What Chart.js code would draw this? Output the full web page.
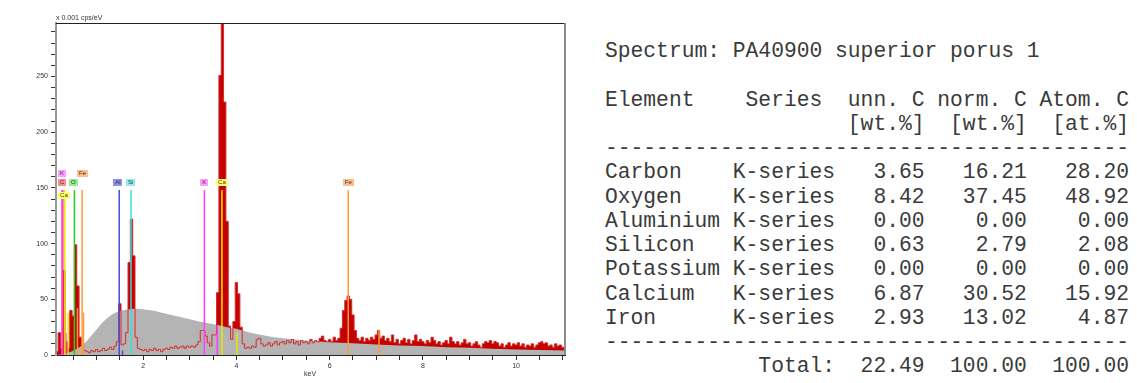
<!DOCTYPE html>
<html>
<head>
<meta charset="utf-8">
<script src="https://cdn.jsdelivr.net/npm/chart.js@4.4.0/dist/chart.umd.min.js"></script>
<style>
  html, body { margin: 0; padding: 0; background: #fff; }
  body { width: 1137px; height: 383px; position: relative; overflow: hidden; }
  #chartBox { position: absolute; left: 0; top: 0; width: 575px; height: 383px; }
  #report { position: absolute; left: 605px; top: 39px; margin: 0; font-family: 'Liberation Mono', 'Courier New', monospace; font-size: 21.3px; line-height: 24.25px; color: #3a3a3a; }
</style>
</head>
<body>
<div id="chartBox"><canvas id="spectrumChart"></canvas></div>
<pre id="report"></pre>
<script>
// spectrum channels: first channel energy and channel width (keV)
const channelStart = 0.15;
const channelWidth = 0.05;
// counts per channel (x 0.001 cps/eV)
const spectrumCounts = [
  3, 20, 6, 76, 12, 6, 40, 35, 99, 62, 16, 9, 4, 3, 2, 4, 3,                  // 0.15 - 0.95
  5, 3, 4, 6, 4, 5, 7, 5, 8, 12, 46, 9, 10, 20, 83, 122, 89, 16, 6, 5,         // 1.00 - 1.95
  4, 5, 3, 5, 4, 6, 4, 5, 3, 5, 6, 5, 7, 6, 8, 6, 7, 8, 6, 8,                  // 2.00 - 2.95
  7, 8, 7, 9, 12, 22, 22, 17, 11, 8, 18, 18, 56, 251, 420, 227, 120, 26, 14, 30, // 3.00 - 3.95
  65, 55, 25, 10, 6, 7, 6, 8, 7, 14, 15, 10, 8, 9, 11, 8, 10, 12, 9, 11,       // 4.00 - 4.95
  12, 10, 13, 11, 14, 10, 12, 9, 13, 11, 12, 10, 14, 11, 13, 12, 15, 17, 13, 12, // 5.00 - 5.95
  14, 12, 16, 13, 15, 24, 40, 49, 53, 50, 36, 22, 15, 13, 16, 12, 15, 13, 16, 14, // 6.00 - 6.95
  18, 22, 15, 17, 13, 15, 12, 18, 11, 14, 10, 13, 15, 11, 14, 10, 13, 18, 12, 14, // 7.00 - 7.95
  12, 10, 13, 11, 16, 13, 10, 12, 9, 11, 13, 10, 16, 12, 10, 12, 9, 11, 14, 10,  // 8.00 - 8.95
  11, 8, 10, 12, 9, 7, 10, 12, 11, 13, 10, 12, 11, 8, 10, 7, 9, 11, 8, 10,       // 9.00 - 9.95
  9, 11, 8, 10, 7, 9, 8, 10, 7, 9, 11, 12, 10, 11, 8, 9, 7, 10, 8, 9, 7, 6, 5    // 10.00 - 11.10
];

// fitted background (bremsstrahlung)
const backgroundEnergy = [0.13, 0.3, 0.45, 0.6, 0.7, 0.8, 0.9, 1.0, 1.1, 1.2, 1.3, 1.4, 1.5, 1.6, 1.7, 1.8, 1.9, 2.0,
  2.1, 2.2, 2.3, 2.4, 2.5, 2.6, 2.7, 2.8, 2.9, 3.0, 3.2, 3.4, 3.6, 3.8, 4.0, 4.2, 4.4, 4.6, 4.8, 5.0,
  5.5, 6.0, 6.5, 7.0, 7.5, 8.0, 8.5, 9.0, 9.5, 10.0, 10.5, 11.05];
const backgroundCounts = [0, 1, 3, 6, 9, 13, 18, 23, 28, 32, 35.5, 38, 39.5, 40.5, 41, 41.5, 41.5, 41,
  40.5, 40, 39, 38, 37, 36, 35, 34, 33, 32, 30, 28.5, 27, 25, 23.5, 21, 19, 17.5, 16, 15,
  13, 11.5, 10.5, 9.5, 8.5, 8, 7, 6.5, 5.5, 5, 4.5, 4];

// element line markers
const markerElement = ['K', 'C', 'Ca', 'K', 'Ca', 'O', 'Fe', 'Fe', 'Fe', 'Al', 'Al', 'Si', 'K', 'K', 'Ca', 'Ca', 'Fe', 'Fe'];
const markerEnergy = [0.257, 0.277, 0.32, 0.343, 0.39, 0.525, 0.59, 0.69, 0.72, 1.486, 1.557, 1.74, 3.313, 3.59, 3.69, 4.013, 6.40, 7.06];
const markerHeight = [148, 148, 148, 20, 38, 148, 42, 148, 38, 148, 4, 148, 148, 26, 148, 20, 148, 23];

// marker labels
const labelElement = ['K', 'C', 'Ca', 'O', 'Fe', 'Al', 'Si', 'K', 'Ca', 'Fe'];
const labelEnergy = [0.26, 0.26, 0.30, 0.50, 0.70, 1.46, 1.73, 3.31, 3.69, 6.40];
const labelRow = [0, 1, 2, 1, 0, 1, 1, 1, 1, 1];

// quantification table
const elementNames = ['Carbon', 'Oxygen', 'Aluminium', 'Silicon', 'Potassium', 'Calcium', 'Iron'];
const elementSeries = ['K-series', 'K-series', 'K-series', 'K-series', 'K-series', 'K-series', 'K-series'];
const unnC = [3.65, 8.42, 0.00, 0.63, 0.00, 6.87, 2.93];
const normC = [16.21, 37.45, 0.00, 2.79, 0.00, 30.52, 13.02];
const atomC = [28.20, 48.92, 0.00, 2.08, 0.00, 15.92, 4.87];
const totals = [22.49, 100.00, 100.00];
const spectrumName = 'PA40900 superior porus 1';

const lineColors = { K: '#ff3cff', C: '#ff4a4a', Ca: '#e8e800', O: '#1ed21e', Fe: '#ff9a3c', Al: '#4848d8', Si: '#3cdcdc' };
const boxColors = { K: '#ff9cff', C: '#ff8c8c', Ca: '#ffff70', O: '#94ee94', Fe: '#ffbc8c', Al: '#9090ee', Si: '#90eeee' };

function buildReport() {
    const lines = [];
    lines.push('Spectrum: ' + spectrumName);
    lines.push('');
    lines.push('Element    Series  unn. C norm. C Atom. C');
    lines.push(' '.repeat(19) + '[wt.%]  [wt.%]  [at.%]');
    lines.push('-'.repeat(41));
    elementNames.forEach((name, i) => {
        lines.push(name.padEnd(10) + elementSeries[i] +
            unnC[i].toFixed(2).padStart(7) + normC[i].toFixed(2).padStart(8) + atomC[i].toFixed(2).padStart(8));
    });
    lines.push('-'.repeat(41));
    lines.push('Total:'.padStart(18) + totals[0].toFixed(2).padStart(7) +
        totals[1].toFixed(2).padStart(8) + totals[2].toFixed(2).padStart(8));
    document.getElementById('report').textContent = lines.join('\n');
}

const spectrumPoints = spectrumCounts.map((c, i) => ({ x: channelStart + i * channelWidth, y: c }));
const backgroundPoints = backgroundEnergy.map((e, i) => ({ x: e, y: backgroundCounts[i] }));

const datasets = [
    {
        label: 'spectrum',
        data: spectrumPoints,
        stepped: 'middle',
        fill: 'origin',
        backgroundColor: '#c40000',
        borderWidth: 0,
        pointRadius: 0,
        order: 10
    },
    {
        label: 'background',
        data: backgroundPoints,
        fill: 'origin',
        backgroundColor: '#b4b4b4',
        borderWidth: 0,
        pointRadius: 0,
        order: 9
    },
    {
        label: 'spectrum line',
        data: spectrumPoints,
        stepped: 'middle',
        fill: false,
        borderColor: '#d42a2a',
        borderWidth: 1,
        pointRadius: 0,
        order: 8
    }
];

markerEnergy.forEach((e, i) => {
    datasets.push({
        label: markerElement[i],
        data: [{ x: e, y: 0 }, { x: e, y: markerHeight[i] }],
        borderColor: lineColors[markerElement[i]],
        borderWidth: 1.5,
        pointRadius: 0,
        fill: false,
        order: 1
    });
});

const framePlugin = {
    id: 'frame',
    afterDatasetsDraw(chart) {
        const { ctx, chartArea, scales } = chart;
        ctx.save();
        // top and right border
        ctx.strokeStyle = '#222';
        ctx.lineWidth = 1;
        ctx.beginPath();
        ctx.moveTo(chartArea.left, chartArea.top + 0.5);
        ctx.lineTo(chartArea.right, chartArea.top + 0.5);
        ctx.stroke();
        ctx.strokeStyle = '#8c8c8c';
        ctx.lineWidth = 2;
        ctx.beginPath();
        ctx.moveTo(chartArea.right, chartArea.top);
        ctx.lineTo(chartArea.right, chartArea.bottom);
        ctx.stroke();

        // element labels
        ctx.font = '6px "Liberation Sans", sans-serif';
        ctx.textAlign = 'center';
        ctx.textBaseline = 'middle';
        const baseY = scales.y.getPixelForValue(155);
        const rowOffset = [-9, 0, 13];
        labelElement.forEach((el, i) => {
            const x = scales.x.getPixelForValue(labelEnergy[i]);
            const y = baseY + rowOffset[labelRow[i]];
            const w = ctx.measureText(el).width + 4;
            ctx.fillStyle = boxColors[el];
            ctx.fillRect(Math.round(x - w / 2), Math.round(y - 3.5), Math.round(w), 7);
            ctx.fillStyle = '#333';
            ctx.fillText(el, x, y + 0.5);
        });

        // axis captions
        ctx.font = '7px "Liberation Sans", sans-serif';
        ctx.fillStyle = '#333';
        ctx.textAlign = 'left';
        ctx.textBaseline = 'alphabetic';
        ctx.fillText('x 0.001 cps/eV', chartArea.left, chartArea.top - 3);
        ctx.textAlign = 'center';
        ctx.fillText('keV', scales.x.getPixelForValue(5.58), 376);
        ctx.restore();
    }
};

function drawChart() {
    const ctx = document.getElementById('spectrumChart').getContext('2d');
    window.spectrumChart = new Chart(ctx, {
        type: 'line',
        data: { datasets: datasets },
        options: {
            responsive: true,
            maintainAspectRatio: false,
            animation: false,
            layout: { padding: { left: 0, top: 23, right: 10, bottom: 0 } },
            plugins: { legend: { display: false }, tooltip: { enabled: false } },
            scales: {
                x: {
                    type: 'linear',
                    min: 0.13,
                    max: 11.05,
                    afterBuildTicks: (scale) => {
                        const t = [];
                        for (let v = 0.5; v <= 11; v += 0.5) t.push({ value: v });
                        scale.ticks = t;
                    },
                    afterFit: (scale) => { scale.height = 28; },
                    ticks: {
                        autoSkip: false,
                        maxRotation: 0,
                        padding: 2,
                        color: '#333',
                        font: { size: 7, family: 'Liberation Sans' },
                        callback: (v) => (v % 2 === 0 ? String(v) : '')
                    },
                    grid: { drawOnChartArea: false, tickLength: 5, tickColor: '#333' },
                    border: { color: '#222', width: 1 }
                },
                y: {
                    min: 0,
                    max: 298,
                    afterBuildTicks: (scale) => {
                        const t = [];
                        for (let v = 0; v <= 290; v += 10) t.push({ value: v });
                        scale.ticks = t;
                    },
                    afterFit: (scale) => { scale.width = 56; },
                    ticks: {
                        autoSkip: false,
                        padding: 3,
                        color: '#333',
                        font: { size: 7, family: 'Liberation Sans' },
                        callback: (v) => (v % 50 === 0 ? String(v) : '')
                    },
                    grid: { drawOnChartArea: false, tickLength: 5, tickColor: '#333' },
                    border: { color: '#999', width: 2 }
                }
            }
        },
        plugins: [framePlugin]
    });
}

document.addEventListener('DOMContentLoaded', function () {
    buildReport();
    drawChart();
});
</script>
</body>
</html>
